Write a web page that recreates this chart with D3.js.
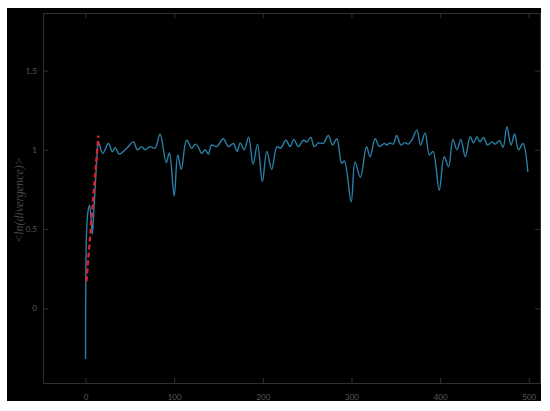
<!DOCTYPE html>
<html>
<head>
<meta charset="utf-8">
<script src="https://cdn.jsdelivr.net/npm/d3@7"></script>
<style>
  body { margin: 0; background: #fff; }
  svg { display: block; }
</style>
</head>
<body>
<svg id="chart"></svg>
<script>
// Data: [step, <ln(divergence)>]
const divergence = [
  [0, -0.32], [1, 0.45], [2.5, 0.6], [4.5, 0.65], [6.5, 0.55], [7.7, 0.47],
  [9, 0.58], [11, 0.78], [13, 0.97], [14.5, 1.05], [19.4, 0.977], [25.8, 1.04],
  [30.3, 0.987], [33.3, 1.015], [38, 0.973], [46.5, 1.01], [54, 1.05], [58.5, 1.0],
  [63.4, 1.02], [67, 1.0], [72.8, 1.02], [78.4, 1.01], [84, 1.10], [91, 0.92],
  [94.6, 0.98], [100, 0.71], [104, 0.967], [108, 0.877], [114, 1.06], [120, 1.01],
  [123.6, 1.036], [127, 1.02], [131, 0.977], [135, 1.0], [138.6, 0.973], [142, 1.03],
  [148, 1.02], [155.5, 1.07], [161, 1.02], [166.8, 1.04], [171, 0.99], [174.5, 1.044],
  [179, 1.0], [184, 1.08], [189, 0.91], [194, 1.036], [199.5, 0.80], [204.5, 0.99],
  [210, 0.877], [216, 1.02], [220, 1.01], [226, 1.06], [230.8, 1.02], [235, 1.066],
  [240, 1.02], [245.8, 1.06], [250, 1.05], [254, 1.08], [258, 1.02], [262.8, 1.044],
  [268, 1.04], [274, 1.09], [278.6, 1.03], [283.5, 1.07], [289, 0.914], [292, 0.93],
  [299.7, 0.672], [304, 0.924], [310, 0.826], [317, 1.02], [321, 0.956], [326.7, 1.07],
  [331.6, 1.02], [337, 1.04], [340, 1.03], [343, 1.044], [347, 1.036], [351, 1.09],
  [355.7, 1.03], [360, 1.045], [364, 1.036], [368, 1.06], [373.8, 1.124], [378, 1.03],
  [383, 1.107], [388, 0.967], [392, 0.99], [399, 0.746], [404.6, 0.956], [409.5, 0.893],
  [414.4, 1.066], [419, 1.0], [423.5, 1.066], [428.3, 0.956], [434, 1.082], [437.7, 1.044],
  [441.5, 1.082], [445, 1.05], [449, 1.078], [453.5, 1.03], [458.5, 1.05], [462, 1.036],
  [467, 1.057], [471, 1.015], [475.4, 1.145], [480, 1.03], [484, 1.10], [488.5, 1.0],
  [493.5, 1.04], [499, 0.86]
];

// Linear fit of the initial growth
const fitLine = [[1, 0.17], [14.5, 1.09]];

const xTicks = [0, 100, 200, 300, 400, 500];
const yTicks = [0, 0.5, 1, 1.5];

// Set up SVG dimensions
const W = 550, H = 411;
const margin = { top: 13, right: 10, bottom: 28, left: 43 };
const width = W - margin.left - margin.right;
const height = H - margin.top - margin.bottom;

const svgRoot = d3.select("#chart")
  .attr("width", W)
  .attr("height", H);

// Black figure background
svgRoot.append("rect")
  .attr("x", 7).attr("y", 8)
  .attr("width", 534).attr("height", 393)
  .attr("fill", "#000");

const svg = svgRoot.append("g")
  .attr("transform", "translate(" + margin.left + "," + margin.top + ")");

const x = d3.scaleLinear()
  .domain([-48, 512.7])
  .range([0, width]);

const y = d3.scaleLinear()
  .domain([-0.471, 1.863])
  .range([height, 0]);

const axisColor = "#303030";
const labelColor = "#5a5a5a";

// Axes with inward ticks, MATLAB style box
const xAxis = svg.append("g")
  .attr("transform", "translate(0," + height + ")")
  .call(d3.axisBottom(x).tickValues(xTicks).tickSize(-5).tickPadding(11).tickFormat(d3.format("d")));

const xTop = svg.append("g")
  .call(d3.axisTop(x).tickValues(xTicks).tickSize(-5).tickFormat(""));

const yAxis = svg.append("g")
  .call(d3.axisLeft(y).tickValues(yTicks).tickSize(-5).tickPadding(6).tickFormat(d => d));

const yRight = svg.append("g")
  .attr("transform", "translate(" + width + ",0)")
  .call(d3.axisRight(y).tickValues(yTicks).tickSize(-5).tickFormat(""));

[xAxis, xTop, yAxis, yRight].forEach(g => {
  g.selectAll("path").attr("stroke", axisColor);
  g.selectAll("line").attr("stroke", axisColor);
  g.selectAll("text")
    .attr("fill", labelColor)
    .style("font-family", "Lato, 'Open Sans', sans-serif")
    .style("font-size", "8px");
});

// Data line
const line = d3.line()
  .x(d => x(d[0]))
  .y(d => y(d[1]))
  .curve(d3.curveCatmullRom.alpha(0.5));

svg.append("path")
  .datum(divergence)
  .attr("fill", "none")
  .attr("stroke", "#2a7fa6")
  .attr("stroke-width", 1.4)
  .attr("d", line);

// Fitted slope, red dashed
svg.append("path")
  .datum(fitLine)
  .attr("fill", "none")
  .attr("stroke", "#e0202c")
  .attr("stroke-width", 2.3)
  .attr("stroke-dasharray", "5,3")
  .attr("d", d3.line().x(d => x(d[0])).y(d => y(d[1])));

// Y axis label
svgRoot.append("text")
  .attr("transform", "translate(23,200) rotate(-90)")
  .attr("text-anchor", "middle")
  .attr("fill", "#4a4a4a")
  .style("font-family", "'Liberation Serif', 'DejaVu Serif', serif")
  .style("font-style", "italic")
  .style("font-size", "12px")
  .text("<ln(divergence)>");
</script>
</body>
</html>
